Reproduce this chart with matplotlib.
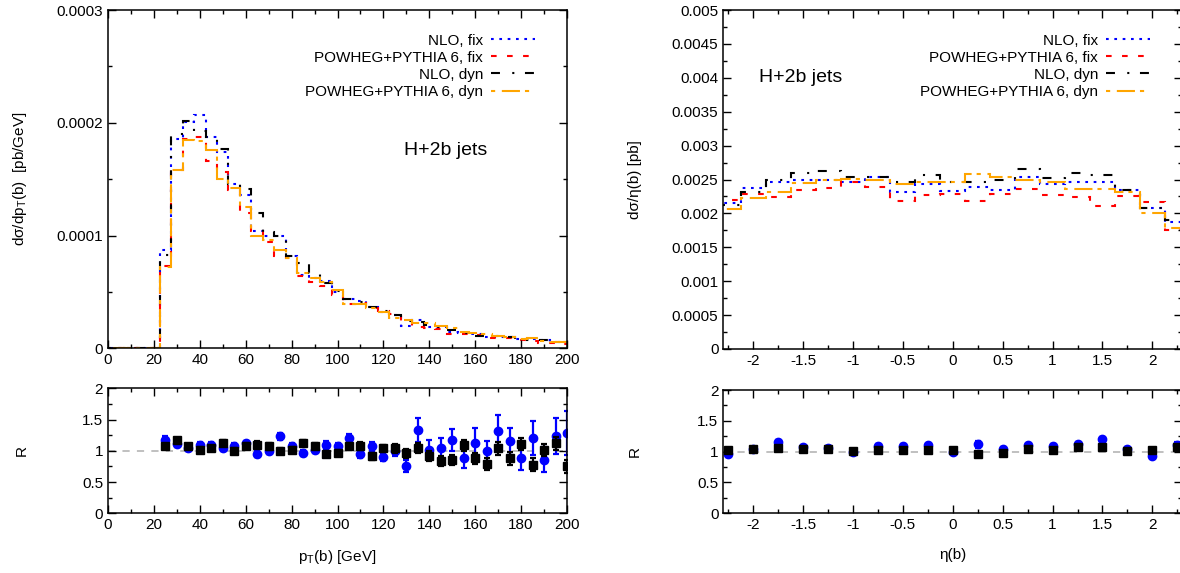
import numpy as np
import matplotlib
matplotlib.use("Agg")
import matplotlib.pyplot as plt
from matplotlib.ticker import MultipleLocator, FuncFormatter

plt.rcParams['font.family'] = ['Liberation Sans', 'DejaVu Sans']
plt.rcParams['font.size'] = 11

# ---- pT(b) distribution, 5 GeV bins (centres), values in pb/GeV
pt = np.arange(0, 205, 5)
e4 = 1e-4
pt_nlo_fix = np.array([0, 0, 0, 0, 0,
    0.87, 1.86, 2.01, 2.07, 1.87, 1.74, 1.46, 1.36, 1.04, 1.00, 1.00, 0.82,
    0.65, 0.62, 0.60, 0.50, 0.44, 0.42, 0.37, 0.32, 0.295, 0.197, 0.25, 0.19,
    0.19, 0.147, 0.133, 0.127, 0.103, 0.103, 0.097, 0.079, 0.082, 0.074, 0.059, 0.059]) * e4
pt_pow_fix = np.array([0, 0, 0, 0, 0,
    0.73, 1.58, 1.86, 1.87, 1.66, 1.56, 1.40, 1.20, 1.04, 0.94, 0.82, 0.80,
    0.64, 0.59, 0.555, 0.477, 0.39, 0.40, 0.36, 0.33, 0.30, 0.245, 0.185, 0.177,
    0.168, 0.124, 0.127, 0.118, 0.088, 0.088, 0.088, 0.074, 0.068, 0.050, 0.044, 0.038]) * e4
pt_nlo_dyn = np.array([0, 0, 0, 0, 0,
    0.83, 1.90, 2.02, 1.93, 1.87, 1.77, 1.46, 1.41, 1.20, 1.03, 1.00, 0.82,
    0.76, 0.67, 0.58, 0.51, 0.436, 0.41, 0.37, 0.33, 0.295, 0.245, 0.235, 0.206,
    0.19, 0.162, 0.138, 0.109, 0.109, 0.109, 0.097, 0.079, 0.076, 0.074, 0.059, 0.050]) * e4
pt_pow_dyn = np.array([0, 0, 0, 0, 0,
    0.72, 1.58, 1.85, 1.84, 1.76, 1.50, 1.42, 1.25, 1.00, 0.96, 0.87, 0.80,
    0.67, 0.62, 0.59, 0.52, 0.39, 0.39, 0.36, 0.32, 0.265, 0.25, 0.227, 0.227,
    0.197, 0.177, 0.147, 0.136, 0.130, 0.109, 0.103, 0.079, 0.088, 0.068, 0.059, 0.053]) * e4

# ratio R = NLO / POWHEG+PYTHIA, pT points 25..200
pt_r = np.arange(25, 205, 5)
r_fix = [1.18, 1.11, 1.04, 1.10, 1.10, 1.04, 1.08, 1.12, 0.95, 1.00, 1.23, 1.08,
         0.97, 1.01, 1.09, 1.07, 1.20, 0.95, 1.07, 0.90, 1.00, 0.76, 1.33, 1.01,
         1.04, 1.17, 0.89, 1.13, 0.99, 1.32, 1.15, 0.88, 1.20, 0.86, 1.24, 1.28]
r_fix_err = [0.05, 0.05, 0.04, 0.04, 0.04, 0.04, 0.04, 0.04, 0.05, 0.05, 0.06, 0.05,
             0.05, 0.05, 0.06, 0.06, 0.07, 0.06, 0.07, 0.07, 0.08, 0.10, 0.19, 0.16,
             0.16, 0.18, 0.16, 0.23, 0.16, 0.26, 0.21, 0.19, 0.27, 0.20, 0.29, 0.35]
r_dyn = [1.07, 1.17, 1.07, 1.02, 1.04, 1.13, 1.00, 1.08, 1.10, 1.07, 1.00, 1.01,
         1.12, 1.08, 0.95, 0.96, 1.07, 1.08, 0.91, 1.04, 1.04, 0.96, 1.05, 0.91,
         0.83, 0.85, 1.09, 0.88, 0.79, 1.04, 0.88, 1.11, 0.78, 1.01, 1.12, 0.75]
r_dyn_err = [0.04, 0.04, 0.04, 0.04, 0.04, 0.04, 0.04, 0.04, 0.05, 0.05, 0.05, 0.05,
             0.05, 0.05, 0.05, 0.05, 0.06, 0.06, 0.06, 0.06, 0.07, 0.07, 0.08, 0.08,
             0.08, 0.08, 0.09, 0.09, 0.09, 0.10, 0.10, 0.10, 0.10, 0.10, 0.10, 0.10]

# ---- eta(b) distribution, 0.25 bins (centres), values in pb
eta = np.arange(-2.25, 2.30, 0.25)
eta_nlo_fix = [0.00215, 0.00237, 0.00247, 0.00249, 0.00250, 0.00247, 0.00253, 0.00231,
               0.00244, 0.00233, 0.00239, 0.00235, 0.00253, 0.00243, 0.00246, 0.00246,
               0.00234, 0.00208, 0.00187]
eta_pow_fix = [0.00220, 0.00229, 0.00224, 0.00235, 0.00238, 0.00246, 0.00239, 0.00219,
               0.00227, 0.00228, 0.00218, 0.00228, 0.00236, 0.00227, 0.00224, 0.00211,
               0.00226, 0.00217, 0.00175]
eta_nlo_dyn = [0.00213, 0.00232, 0.00250, 0.00259, 0.00263, 0.00253, 0.00254, 0.00247,
               0.00256, 0.00247, 0.00247, 0.00250, 0.00266, 0.00252, 0.00259, 0.00256,
               0.00235, 0.00208, 0.00190]
eta_pow_dyn = [0.00206, 0.00222, 0.00232, 0.00245, 0.00250, 0.00251, 0.00249, 0.00243,
               0.00247, 0.00247, 0.00258, 0.00253, 0.00250, 0.00246, 0.00236, 0.00236,
               0.00231, 0.00201, 0.00178]
eta_r_fix = [0.96, 1.04, 1.15, 1.08, 1.06, 0.99, 1.09, 1.09, 1.10, 1.00, 1.12, 1.05,
             1.10, 1.09, 1.12, 1.20, 1.05, 0.93, 1.11]
eta_r_dyn = [1.02, 1.04, 1.06, 1.05, 1.04, 1.01, 1.03, 1.03, 1.03, 1.02, 0.96, 0.97,
             1.05, 1.02, 1.08, 1.08, 1.01, 1.03, 1.08]
eta_r_fix_err = [0.04, 0.03, 0.04, 0.03, 0.03, 0.03, 0.03, 0.03, 0.03, 0.03, 0.06, 0.03,
                 0.03, 0.03, 0.03, 0.04, 0.03, 0.04, 0.04]
eta_r_dyn_err = [0.03] * 19

labels = ['NLO, fix', 'POWHEG+PYTHIA 6, fix', 'NLO, dyn', 'POWHEG+PYTHIA 6, dyn']
colors = ['#0000ff', '#ff0000', '#000000', '#ffa500']
dashes = [(0, (1.3, 2.7)), (0, (2.7, 5)), (0, (4.3, 5.9, 1, 5.1)), (0, (2, 3.2, 8.7, 2.4))]


def edges_of(c):
    w = c[1] - c[0]
    return np.append(c - w / 2, c[-1] + w / 2)


def style(ax, xmaj, xmin, ymaj, ymin):
    ax.xaxis.set_major_locator(MultipleLocator(xmaj))
    ax.xaxis.set_minor_locator(MultipleLocator(xmin))
    ax.yaxis.set_major_locator(MultipleLocator(ymaj))
    ax.yaxis.set_minor_locator(MultipleLocator(ymin))
    ax.tick_params(which='both', direction='in', top=True, right=True, labelsize=11)
    ax.tick_params(which='major', length=6, width=1)
    ax.tick_params(which='minor', length=3, width=1)
    ax.xaxis.set_major_formatter(FuncFormatter(lambda v, p: '%g' % round(v, 6)))
    ax.yaxis.set_major_formatter(FuncFormatter(lambda v, p: '%g' % round(v, 6)))
    for s in ax.spines.values():
        s.set_linewidth(1.1)


def ratio_points(ax, x, rf, ef, rd, ed):
    ax.axhline(1, color='#bbbbbb', linestyle=(0, (4, 4)), linewidth=1.3, zorder=1)
    ax.errorbar(x, rf, yerr=ef, fmt='o', color='#0000ff', ms=6, capsize=2.5,
                elinewidth=1.6, capthick=1.6, zorder=2)
    ax.errorbar(x, rd, yerr=ed, fmt='s', color='#000000', ms=6, capsize=2.5,
                elinewidth=1.6, capthick=1.6, zorder=3)


fig = plt.figure(figsize=(11.8, 5.73), dpi=100)
W = 459 / 1180
ax1 = fig.add_axes([108 / 1180, 1 - 348.3 / 573, W, 338.3 / 573])
ax2 = fig.add_axes([108 / 1180, 1 - 513.3 / 573, W, 125 / 573])
ax3 = fig.add_axes([723.3 / 1180, 1 - 349 / 573, W, 339 / 573])
ax4 = fig.add_axes([723.3 / 1180, 1 - 513.3 / 573, W, 123.3 / 573])

# top left: pT(b)
ed = edges_of(pt)
for vals, lab, c, d in zip([pt_nlo_fix, pt_pow_fix, pt_nlo_dyn, pt_pow_dyn], labels, colors, dashes):
    ax1.stairs(vals, ed, baseline=None, color=c, linestyle=d, linewidth=1.5, label=lab)
ax1.set_xlim(0, 200)
ax1.set_ylim(0, 0.0003)
style(ax1, 20, 10, 0.0001, 0.00005)
ax1.set_ylabel('dσ/dp$_\\mathregular{T}$(b)  [pb/GeV]')
ax1.yaxis.set_label_coords(-0.172, 0.5)
ax1.text(147, 0.000175, 'H+2b jets', fontsize=14, ha='center', va='center')
ax1.legend(loc='upper right', bbox_to_anchor=(0.93, 0.93), frameon=False, markerfirst=False,
           borderaxespad=0, borderpad=0, labelspacing=0.2, handlelength=2.9,
           handletextpad=0.5, fontsize=11)

# bottom left: ratio
ratio_points(ax2, pt_r, r_fix, r_fix_err, r_dyn, r_dyn_err)
ax2.set_xlim(0, 200)
ax2.set_ylim(0, 2)
style(ax2, 20, 10, 0.5, 0.25)
ax2.set_ylabel('R')
ax2.yaxis.set_label_coords(-0.172, 0.5)
ax2.set_xlabel('p$_\\mathregular{T}$(b) [GeV]')
ax2.xaxis.set_label_coords(0.5, -0.28)

# top right: eta(b)
ed = edges_of(eta)
for vals, lab, c, d in zip([eta_nlo_fix, eta_pow_fix, eta_nlo_dyn, eta_pow_dyn], labels, colors, dashes):
    ax3.stairs(vals, ed, baseline=None, color=c, linestyle=d, linewidth=1.5, label=lab)
ax3.set_xlim(-2.3, 2.3)
ax3.set_ylim(0, 0.005)
style(ax3, 0.5, 0.25, 0.0005, 0.00025)
ax3.set_ylabel('dσ/η(b) [pb]')
ax3.yaxis.set_label_coords(-0.177, 0.5)
ax3.text(-1.53, 0.004, 'H+2b jets', fontsize=14, ha='center', va='center')
ax3.legend(loc='upper right', bbox_to_anchor=(0.93, 0.93), frameon=False, markerfirst=False,
           borderaxespad=0, borderpad=0, labelspacing=0.2, handlelength=2.9,
           handletextpad=0.5, fontsize=11)

# bottom right: ratio
ratio_points(ax4, eta, eta_r_fix, eta_r_fix_err, eta_r_dyn, eta_r_dyn_err)
ax4.set_xlim(-2.3, 2.3)
ax4.set_ylim(0, 2)
style(ax4, 0.5, 0.25, 0.5, 0.25)
ax4.set_ylabel('R')
ax4.yaxis.set_label_coords(-0.177, 0.5)
ax4.set_xlabel('η(b)')
ax4.xaxis.set_label_coords(0.5, -0.28)

fig.savefig('out.png', dpi=100)
